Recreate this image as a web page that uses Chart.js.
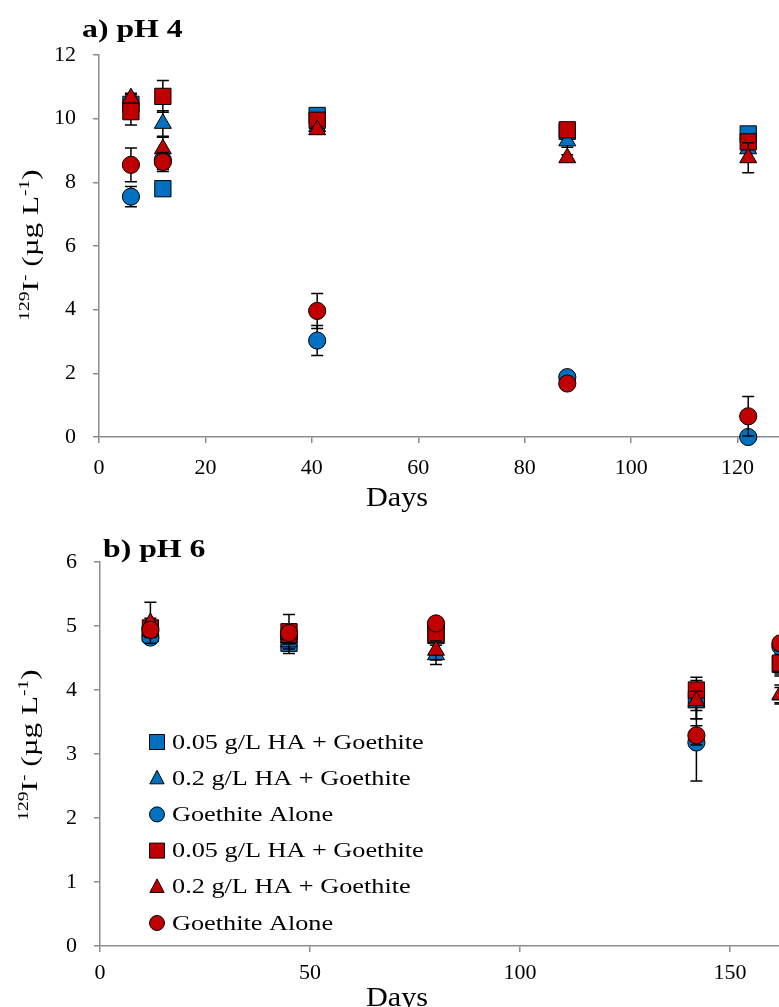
<!DOCTYPE html>
<html><head><meta charset="utf-8">
<script src="https://cdn.jsdelivr.net/npm/chart.js@4"></script>
<style>
html,body{margin:0;padding:0;background:#fff;overflow:hidden;width:779px;height:1007px;}
#wrap{position:relative;width:779px;height:1007px;overflow:hidden;background:#fff;}
canvas{position:absolute;left:0;}
#fontprobe{position:absolute;left:-1000px;top:0;font-family:'Liberation Serif';font-size:22px;}
#fontprobe b{font-weight:bold;}
</style></head><body>
<div id="fontprobe">0123 Days <b>pH</b> µg</div>
<div id="wrap">
<canvas id="ca" width="880" height="512" style="top:0"></canvas>
<canvas id="cb" width="980" height="495" style="top:512px"></canvas>
</div>
<script>
// ---------- data ----------
const seriesLabels = ['0.05 g/L HA + Goethite','0.2 g/L HA + Goethite','Goethite Alone',
                      '0.05 g/L HA + Goethite','0.2 g/L HA + Goethite','Goethite Alone'];
const seriesColors = ['#0070C0','#0070C0','#0070C0','#C00000','#C00000','#C00000'];
const seriesShapes = ['rect','triangle','circle','rect','triangle','circle'];

// a) pH 4
const daysA = [6, 12, 41, 88, 122];
const a_blueSquare   = [10.45, 7.80, 10.10, 9.60, 9.52];
const a_blueTriangle = [10.60, 9.85, 9.75, 9.30, 9.05];
const a_blueCircle   = [7.55, 8.70, 3.03, 1.88, 0.00];
const a_redSquare    = [10.22, 10.70, 9.95, 9.65, 9.27];
const a_redTriangle  = [10.65, 9.05, 9.65, 8.77, 8.77];
const a_redCircle    = [8.55, 8.64, 3.96, 1.68, 0.65];
const a_err_blueSquare   = [0.20, 0.10, 0.15, 0.15, 0.10];
const a_err_blueTriangle = [0.15, 0.40, 0.10, 0.20, 0.10];
const a_err_blueCircle   = [0.32, 0.30, 0.47, 0.17, 0.05];
const a_err_redSquare    = [0.42, 0.50, 0.10, 0.10, 0.10];
const a_err_redTriangle  = [0.15, 0.37, 0.10, 0.10, 0.47];
const a_err_redCircle    = [0.53, 0.30, 0.55, 0.10, 0.62];

// b) pH 6
const daysB = [12, 45, 80, 142, 162];
const b_blueSquare   = [4.88, 4.73, 4.85, 3.85, 4.40];
const b_blueTriangle = [4.95, 4.75, 4.55, 3.80, 3.92];
const b_blueCircle   = [4.82, 4.85, 5.00, 3.18, 4.68];
const b_redSquare    = [4.97, 4.91, 4.87, 4.00, 4.42];
const b_redTriangle  = [5.05, 4.82, 4.62, 3.83, 3.93];
const b_redCircle    = [4.94, 4.89, 5.04, 3.29, 4.73];
const b_err_blueSquare   = [0.10, 0.10, 0.10, 0.30, 0.15];
const b_err_blueTriangle = [0.10, 0.18, 0.15, 0.25, 0.12];
const b_err_blueCircle   = [0.05, 0.10, 0.10, 0.60, 0.10];
const b_err_redSquare    = [0.15, 0.27, 0.10, 0.20, 0.20];
const b_err_redTriangle  = [0.32, 0.10, 0.15, 0.15, 0.15];
const b_err_redCircle    = [0.10, 0.10, 0.05, 0.15, 0.05];

const ticksA_x = {min: 0, max: 140, step: 20};
const ticksA_y = {min: 0, max: 12, step: 2};
const ticksB_x = {min: 0, max: 200, step: 50};
const ticksB_y = {min: 0, max: 6, step: 1};

// ---------- helpers ----------
const SERIF = '"Liberation Serif", "Times New Roman", Times, serif';
const AXIS_GRAY = '#8c8c8c';

function pointRadiusFor(shape){ return shape === 'rect' ? 11.5 : shape === 'triangle' ? 9.8 : 8.6; }

function makeDatasets(days, values, errors){
  return values.map((vals, i) => ({
    label: seriesLabels[i],
    data: days.map((d, j) => ({x: d, y: vals[j]})),
    errors: errors[i],
    pointStyle: seriesShapes[i],
    pointRadius: pointRadiusFor(seriesShapes[i]),
    backgroundColor: seriesColors[i],
    borderColor: '#000',
    pointBorderWidth: 1,
    showLine: false,
    clip: false,
    order: 5 - i
  }));
}

const errorBarPlugin = {
  id: 'errorBars',
  beforeDatasetDraw(chart, args){
    const ds = chart.data.datasets[args.index];
    if (!ds.errors) return;
    const xs = chart.scales.x, ys = chart.scales.y, ctx = chart.ctx;
    ctx.save();
    ctx.strokeStyle = '#000';
    ctx.lineWidth = 1.5;
    ds.data.forEach((p, j) => {
      const e = ds.errors[j];
      if (!e) return;
      const x = xs.getPixelForValue(p.x);
      const y1 = ys.getPixelForValue(p.y + e);
      const y2 = ys.getPixelForValue(Math.max(p.y - e, ys.min));
      ctx.beginPath();
      ctx.moveTo(x, y1); ctx.lineTo(x, y2);
      ctx.moveTo(x - 6, y1); ctx.lineTo(x + 6, y1);
      if (p.y - e >= ys.min) { ctx.moveTo(x - 6, y2); ctx.lineTo(x + 6, y2); }
      ctx.stroke();
    });
    ctx.restore();
  }
};

function drawStretched(ctx, text, x, y, font, sx, align){
  ctx.save();
  ctx.font = font;
  const w = ctx.measureText(text).width * sx;
  let left = x;
  if (align === 'center') left = x - w / 2;
  ctx.translate(left, y);
  ctx.scale(sx, 1);
  ctx.textAlign = 'left';
  ctx.fillText(text, 0, 0);
  ctx.restore();
}

// rich y-axis title with superscripts, rotated -90
function drawYTitle(ctx, cx, cy, size, sx){
  const segs = [
    {t: '129', sup: true}, {t: 'I', sup: false}, {t: '-', sup: true},
    {t: ' (\u00b5g L', sup: false}, {t: '-1', sup: true}, {t: ')', sup: false}
  ];
  const supSize = Math.round(size * 0.62);
  ctx.save();
  let total = 0;
  segs.forEach(s => {
    ctx.font = (s.sup ? supSize : size) + 'px ' + SERIF;
    s.w = ctx.measureText(s.t).width * sx;
    total += s.w;
  });
  ctx.translate(cx, cy);
  ctx.rotate(-Math.PI / 2);
  ctx.fillStyle = '#000';
  ctx.textBaseline = 'alphabetic';
  let pos = -total / 2;
  segs.forEach(s => {
    ctx.save();
    ctx.font = (s.sup ? supSize : size) + 'px ' + SERIF;
    ctx.translate(pos, s.sup ? -size * 0.36 : 0);
    ctx.scale(sx, 1);
    ctx.fillText(s.t, 0, 0);
    ctx.restore();
    pos += s.w;
  });
  ctx.restore();
}

function drawMarker(ctx, shape, color, x, y, r){
  ctx.save();
  ctx.fillStyle = color; ctx.strokeStyle = '#000'; ctx.lineWidth = 1;
  ctx.beginPath();
  if (shape === 'rect') ctx.rect(x - r, y - r, 2 * r, 2 * r);
  else if (shape === 'circle') ctx.arc(x, y, r, 0, Math.PI * 2);
  else { ctx.moveTo(x, y - r * 1.05); ctx.lineTo(x + r * 0.95, y + r * 0.75); ctx.lineTo(x - r * 0.95, y + r * 0.75); ctx.closePath(); }
  ctx.fill(); ctx.stroke();
  ctx.restore();
}

function annotations(opts){
  return {
    id: 'annot',
    afterDraw(chart){
      const ctx = chart.ctx;
      ctx.save();
      ctx.fillStyle = '#000';
      ctx.textBaseline = 'alphabetic';
      drawStretched(ctx, opts.title, opts.titleX, opts.titleY, 'bold 25px ' + SERIF, 1.27, 'left');
      drawStretched(ctx, 'Days', opts.daysX, opts.daysY, '28px ' + SERIF, 1.08, 'center');
      drawYTitle(ctx, opts.yTitleX, opts.yTitleY, 24, 1.3);
      if (opts.legend) {
        const L = opts.legend;
        ctx.textBaseline = 'middle';
        chart.data.datasets.forEach((ds, i) => {
          const y = L.y0 + i * L.dy;
          drawMarker(ctx, seriesShapes[i], seriesColors[i], L.mx, y, 7.5);
          ctx.fillStyle = '#000';
          drawStretched(ctx, ds.label, L.tx, y + 1, '21px ' + SERIF, 1.25, 'left');
        });
      }
      ctx.restore();
    }
  };
}

function makeChart(id, days, values, errors, tx, ty, layout, annot){
  const gridOpts = {display: true, drawOnChartArea: false, drawTicks: true, tickLength: 6, color: AXIS_GRAY, lineWidth: 1.5};
  return new Chart(document.getElementById(id), {
    type: 'scatter',
    data: {datasets: makeDatasets(days, values, errors)},
    options: {
      responsive: false, animation: false, events: [],
      layout: {padding: layout.padding},
      plugins: {legend: {display: false}, tooltip: {enabled: false}, title: {display: false}},
      scales: {
        x: {
          type: 'linear', min: tx.min, max: tx.max,
          ticks: {stepSize: tx.step, color: '#000', font: {family: SERIF, size: 22}, padding: layout.xPad, maxRotation: 0},
          grid: gridOpts,
          border: {display: true, color: AXIS_GRAY, width: 1.5},
          afterFit(s){ s.height = layout.xHeight; }
        },
        y: {
          type: 'linear', min: ty.min, max: ty.max,
          ticks: {stepSize: ty.step, color: '#000', font: {family: SERIF, size: 22}, padding: 17},
          grid: gridOpts,
          border: {display: true, color: AXIS_GRAY, width: 1.5},
          afterFit(s){ s.width = layout.yWidth; }
        }
      }
    },
    plugins: [errorBarPlugin, annotations(annot)]
  });
}

function build(){
  makeChart('ca', daysA,
    [a_blueSquare, a_blueTriangle, a_blueCircle, a_redSquare, a_redTriangle, a_redCircle],
    [a_err_blueSquare, a_err_blueTriangle, a_err_blueCircle, a_err_redSquare, a_err_redTriangle, a_err_redCircle],
    ticksA_x, ticksA_y,
    {padding: {top: 55, right: 36, bottom: 0, left: 0}, xHeight: 75, yWidth: 99, xPad: 12},
    {title: 'a) pH 4', titleX: 82, titleY: 37, daysX: 397, daysY: 506, yTitleX: 38, yTitleY: 245});

  makeChart('cb', daysB,
    [b_blueSquare, b_blueTriangle, b_blueCircle, b_redSquare, b_redTriangle, b_redCircle],
    [b_err_blueSquare, b_err_blueTriangle, b_err_blueCircle, b_err_redSquare, b_err_redTriangle, b_err_redCircle],
    ticksB_x, ticksB_y,
    {padding: {top: 50, right: 40, bottom: 0, left: 0}, xHeight: 61, yWidth: 100, xPad: 8},
    {title: 'b) pH 6', titleX: 103, titleY: 45, daysX: 397, daysY: 494, yTitleX: 37, yTitleY: 233,
     legend: {mx: 157, tx: 172, y0: 230, dy: 36.2}});
}

let built = false;
function buildOnce(){ if (!built) { built = true; build(); } }
if (document.fonts && document.fonts.load) {
  Promise.all([
    document.fonts.load('22px "Liberation Serif"'),
    document.fonts.load('bold 25px "Liberation Serif"')
  ]).then(buildOnce, buildOnce);
  setTimeout(buildOnce, 1500);
} else {
  buildOnce();
}
</script>
</body></html>
